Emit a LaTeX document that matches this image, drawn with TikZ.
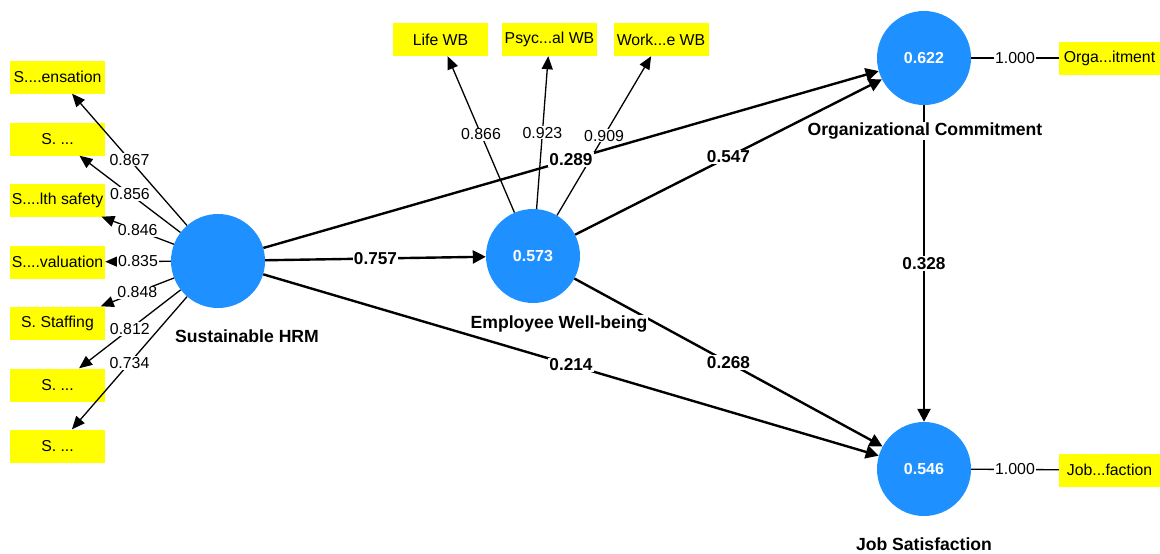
\documentclass[tikz,border=0pt]{standalone}
\usepackage{fontspec}
\setmainfont{Liberation Sans}
\usetikzlibrary{arrows.meta}
\definecolor{lvblue}{RGB}{30,144,255}
\definecolor{mvyellow}{RGB}{255,255,0}
\begin{document}
\begin{tikzpicture}[x=1pt,y=-1pt,
 lv/.style={circle, fill=lvblue, minimum size=94pt, inner sep=0pt, text=white, font=\fontsize{16}{18}\selectfont\bfseries},
 mv/.style={rectangle, fill=mvyellow, minimum width=95pt, minimum height=33pt, inner sep=0pt, font=\fontsize{15.8}{18}\selectfont},
 loadarrow/.style={line width=1.3pt, -{Triangle[length=13pt,width=11pt]}},
 patharrow/.style={line width=2.4pt, -{Triangle[length=13pt,width=13pt]}},
 lab/.style={fill=white, inner sep=1pt, font=\fontsize{15.9}{18}\selectfont},
 blab/.style={fill=white, inner sep=1pt, font=\fontsize{17.2}{19}\selectfont\bfseries},
 lvname/.style={fill=white, inner sep=1pt, font=\fontsize{17.6}{19}\selectfont\bfseries},
]
\useasboundingbox (0,0) rectangle (1160,554);

% latent variables
\node[lv] (hrm) at (218,261) {};
\node[lv] (ewb) at (533,256) {0.573};
\node[lv] (oc) at (924,58) {0.622};
\node[lv] (js) at (924,469) {0.546};

% indicators
\node[mv] (h1) at (57.5,77) {S....ensation};
\node[mv] (h2) at (57.5,139) {S. ...};
\node[mv] (h3) at (57.5,200) {S....lth safety};
\node[mv] (h4) at (57.5,262) {S....valuation};
\node[mv] (h5) at (57.5,323) {S. Staffing};
\node[mv] (h6) at (57.5,385) {S. ...};
\node[mv] (h7) at (57.5,446) {S. ...};
\node[mv] (w1) at (440.5,39.5) {Life WB};
\node[mv] (w2) at (549.5,39.5) {Psyc...al WB};
\node[mv] (w3) at (661,39.5) {Work...e WB};
\node[mv, minimum width=101pt] (o1) at (1109.5,58) {Orga...itment};
\node[mv, minimum width=101pt] (j1) at (1109.5,470) {Job...faction};

% structural paths
\draw[patharrow] (hrm) -- (ewb);
\draw[patharrow] (hrm) -- (oc);
\draw[patharrow] (hrm) -- (js);
\draw[patharrow] (ewb) -- (oc);
\draw[patharrow] (ewb) -- (js);
\draw[patharrow] (oc) -- (js);

% loadings
\foreach \i in {1,...,7} { \draw[loadarrow] (hrm) -- (h\i); }
\foreach \i in {1,2,3} { \draw[loadarrow] (ewb) -- (w\i); }
\draw[line width=1.3pt] (oc) -- (o1);
\draw[line width=1.3pt] (js) -- (j1);

% labels
\path (hrm) -- node[lab] {0.867} (h1);
\path (hrm) -- node[lab] {0.856} (h2);
\path (hrm) -- node[lab] {0.846} (h3);
\path (hrm) -- node[lab] {0.835} (h4);
\path (hrm) -- node[lab] {0.848} (h5);
\path (hrm) -- node[lab] {0.812} (h6);
\path (hrm) -- node[lab] {0.734} (h7);
\path (ewb) -- node[lab] {0.866} (w1);
\path (ewb) -- node[lab] {0.923} (w2);
\path (ewb) -- node[lab] {0.909} (w3);
\path (oc) -- node[lab] {1.000} (o1);
\path (js) -- node[lab] {1.000} (j1);

\path (hrm) -- node[blab] {0.757} (ewb);
\path (hrm) -- node[blab] {0.289} (oc);
\path (hrm) -- node[blab] {0.214} (js);
\path (ewb) -- node[blab] {0.547} (oc);
\path (ewb) -- node[blab] {0.268} (js);
\path (oc) -- node[blab] {0.328} (js);

% names
\node[lvname] (hrmname) at (247,336) {Sustainable HRM};
\node[lvname] (ewbname) at (559,324) {Employee Well-being};
\node[lvname] (ocname) at (925,131) {Organizational Commitment};
\node[lvname] (jsname) at (924,544) {Job Satisfaction};
\end{tikzpicture}
\end{document}
